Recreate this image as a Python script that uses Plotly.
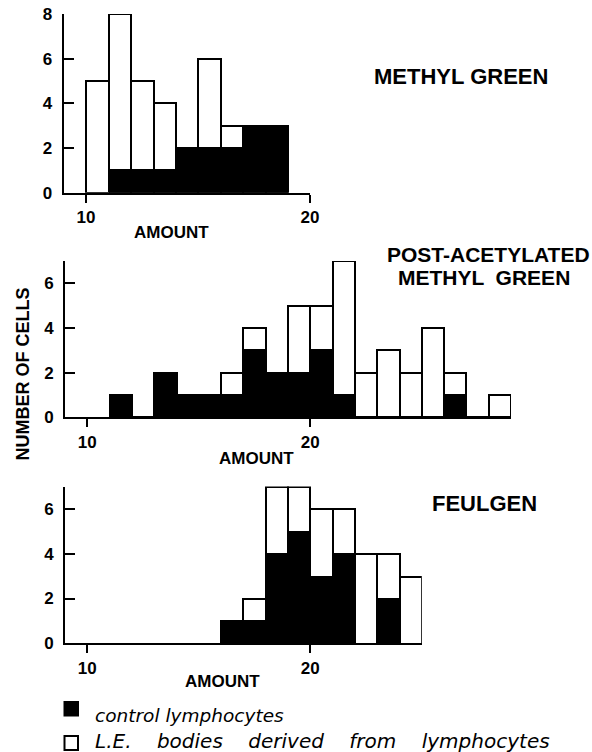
import plotly.graph_objects as go

# ---- data ----
# Methyl green
mg_bins = [10, 11, 12, 13, 14, 15, 16, 17, 18]
mg_control = [0, 1, 1, 1, 2, 2, 2, 3, 3]
mg_le = [5, 7, 4, 3, 0, 4, 1, 0, 0]

# Post-acetylated methyl green
pa_bins = [11, 12, 13, 14, 15, 16, 17, 18, 19, 20, 21, 22, 23, 24, 25, 26, 27, 28]
pa_control = [1, 0, 2, 1, 1, 1, 3, 2, 2, 3, 1, 0, 0, 0, 0, 1, 0, 0]
pa_le = [0, 0, 0, 0, 0, 1, 1, 0, 3, 2, 6, 2, 3, 2, 4, 1, 0, 1]

# Feulgen
fe_bins = [16, 17, 18, 19, 20, 21, 22, 23, 24]
fe_control = [1, 1, 4, 5, 3, 4, 0, 2, 0]
fe_le = [0, 1, 3, 2, 3, 2, 4, 2, 3]

x_ticks = [10, 20]
titles = ["METHYL GREEN", "POST-ACETYLATED", "METHYL  GREEN", "FEULGEN"]
legend_labels = ["control lymphocytes", "L.E. bodies derived from lymphocytes"]

W, H = 592, 752
def px(x):
    return x / W
def py(y):
    return 1 - y / H

FONT = "Liberation Sans"
fig = go.Figure()

panels = [
    (mg_bins, mg_control, mg_le, "x", "y"),
    (pa_bins, pa_control, pa_le, "x2", "y2"),
    (fe_bins, fe_control, fe_le, "x3", "y3"),
]
for bins, ctrl, le, xa, ya in panels:
    xs = [b + 0.5 for b in bins]
    fig.add_trace(go.Bar(x=xs, y=ctrl, width=1, xaxis=xa, yaxis=ya,
                         marker=dict(color="black", line=dict(color="black", width=2)),
                         cliponaxis=False, showlegend=False, name="control"))
    fig.add_trace(go.Bar(x=xs, y=le, width=1, xaxis=xa, yaxis=ya,
                         marker=dict(color="white", line=dict(color="black", width=2)),
                         cliponaxis=False, showlegend=False, name="L.E."))

tickfont = dict(family=FONT, size=17, color="black", weight="bold")

def xaxis(rng, dom, anchor):
    return dict(range=rng, domain=dom, anchor=anchor, showgrid=False, zeroline=False,
                automargin=False,
                showline=True, linecolor="black", linewidth=2,
                tickvals=x_ticks, ticks="outside", ticklen=8, tickwidth=2,
                tickcolor="black", tickfont=tickfont, ticklabelstandoff=0)

def yaxis(rng, dom, anchor, tv):
    return dict(range=rng, domain=dom, anchor=anchor, showgrid=False, zeroline=False,
                automargin=False,
                showline=True, linecolor="black", linewidth=2,
                tickvals=tv, ticks="inside", ticklen=10, tickwidth=2,
                tickcolor="black", tickfont=tickfont, ticklabelstandoff=6)

fig.update_layout(
    template="none",
    width=W, height=H,
    margin=dict(l=0, r=0, t=0, b=0, pad=0),
    paper_bgcolor="white", plot_bgcolor="white",
    barmode="stack", bargap=0,
    xaxis=xaxis([9, 20], [px(63.6), px(310)], "y"),
    yaxis=yaxis([0, 8], [py(192.7), py(14)], "x", [0, 2, 4, 6, 8]),
    xaxis2=xaxis([9, 29], [px(65), px(511)], "y2"),
    yaxis2=yaxis([0, 7], [py(417.3), py(261)], "x2", [0, 2, 4, 6]),
    xaxis3=xaxis([9, 25], [px(65), px(421.8)], "y3"),
    yaxis3=yaxis([0, 7], [py(643.3), py(486.5)], "x3", [0, 2, 4, 6]),
)

def ann(text, x, y, size, angle=0, italic=False, bold=True, xanchor="center", family=FONT):
    fig.add_annotation(text=text, x=px(x), y=py(y), xref="paper", yref="paper",
                       showarrow=False, xanchor=xanchor, yanchor="middle", textangle=angle,
                       font=dict(family=family, size=size, color="black",
                                 weight="bold" if bold else "normal",
                                 style="italic" if italic else "normal"))

# panel titles
ann(titles[0], 461, 76, 22)
ann(titles[1], 488, 254.5, 21)
ann(titles[2], 484, 277, 21)
ann(titles[3], 484, 503.5, 22)

# x-axis titles
ann("AMOUNT", 171, 232.5, 17)
ann("AMOUNT", 256, 458, 17)
ann("AMOUNT", 222, 681.5, 17)

# y-axis title
ann("NUMBER OF CELLS", 22.5, 374, 18, angle=-90)

# legend
fig.add_shape(type="rect", xref="paper", yref="paper",
              x0=px(64.5), x1=px(78), y0=py(715.5), y1=py(702),
              fillcolor="black", line=dict(color="black", width=2))
fig.add_shape(type="rect", xref="paper", yref="paper",
              x0=px(64.5), x1=px(78), y0=py(750), y1=py(736),
              fillcolor="white", line=dict(color="black", width=2))
ann(legend_labels[0], 93, 715.5, 18.5, italic=True, bold=False, xanchor="left", family="DejaVu Sans")
ann(legend_labels[1].replace(" ", "\u00a0\u00a0\u00a0\u00a0"), 93, 740.5, 20, italic=True, bold=False,
    xanchor="left", family="DejaVu Sans")

fig.write_html("out.html", config={"displayModeBar": False},
               post_script="document.body.style.margin='0';document.body.style.overflow='hidden';")
